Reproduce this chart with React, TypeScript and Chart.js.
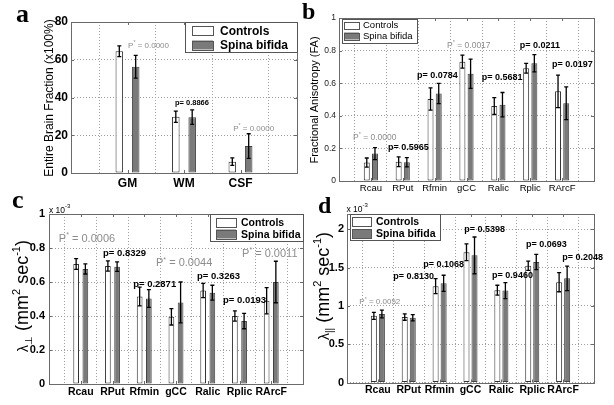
import React, { useEffect, useRef } from 'react';
import { Chart, registerables } from 'chart.js';

Chart.register(...registerables);

const SANS = '"Liberation Sans", Arial, Helvetica, sans-serif';
const SERIF = '"Liberation Serif", "Times New Roman", serif';
Chart.defaults.font.family = SANS;

const seriesNames = ['Controls', 'Spina bifida'];
const seriesFill = ['#ffffff', '#7a7a7a'];

// ---------- panel a ----------
const catsA = ['GM', 'WM', 'CSF'];
const ctrlA = [64.5, 29.8, 6.0];
const ctrlSdA = [2.8, 3.0, 2.0];
const sbA = [56.3, 29.6, 14.3];
const sbSdA = [6.0, 3.8, 6.5];
const pTextA = ['P* = 0.0000', 'p= 0.8866', 'P* = 0.0000'];
const pCatA = [1.01, 1.84, 2.87];
const pValA = [67.7, 37.6, 24];
const yTicksA = [0, 20, 40, 60, 80];

// ---------- regions (b, c, d) ----------
const regions = ['Rcau', 'RPut', 'Rfmin', 'gCC', 'Ralic', 'Rplic', 'RArcF'];

// ---------- panel b : FA ----------
const ctrlB = [0.113, 0.118, 0.503, 0.732, 0.46, 0.692, 0.55];
const ctrlSdB = [0.028, 0.03, 0.068, 0.04, 0.052, 0.03, 0.1];
const sbB = [0.168, 0.115, 0.537, 0.658, 0.468, 0.722, 0.477];
const sbSdB = [0.037, 0.028, 0.062, 0.09, 0.075, 0.053, 0.1];
const pTextB = ['P* = 0.0000', 'p= 0.5965', 'p= 0.0784', 'P* = 0.0017', 'p= 0.5681', 'p= 0.0211', 'p= 0.0197'];
const pCatB = [0.44, 1.54, 2.45, 3.39, 4.48, 5.67, 6.68];
const pValB = [0.268, 0.21, 0.65, 0.834, 0.64, 0.834, 0.718];
const yTicksB = [0, 0.2, 0.4, 0.6, 0.8, 1];

// ---------- panel c : lambda perpendicular (x 10^-3) ----------
const ctrlC = [0.706, 0.694, 0.515, 0.395, 0.55, 0.4, 0.49];
const ctrlSdC = [0.032, 0.03, 0.055, 0.048, 0.042, 0.03, 0.077];
const sbC = [0.677, 0.69, 0.503, 0.48, 0.537, 0.37, 0.6];
const sbSdC = [0.03, 0.028, 0.052, 0.12, 0.044, 0.045, 0.122];
const pTextC = ['P* = 0.0006', 'p= 0.8329', 'p= 0.2871', 'P* = 0.0044', 'p= 0.3263', 'p= 0.0193', 'P* = 0.0011'];
const pCatC = [0.31, 1.7, 2.65, 3.37, 4.66, 5.48, 6.08];
const pValC = [0.857, 0.775, 0.592, 0.714, 0.635, 0.494, 0.769];
const yTicksC = [0, 0.2, 0.4, 0.6, 0.8, 1];

// ---------- panel d : lambda parallel (x 10^-3) ----------
const ctrlD = [0.87, 0.855, 1.258, 1.7, 1.205, 1.525, 1.31];
const ctrlSdD = [0.045, 0.042, 0.098, 0.11, 0.065, 0.06, 0.125];
const sbD = [0.895, 0.845, 1.295, 1.66, 1.2, 1.573, 1.36];
const sbSdD = [0.05, 0.04, 0.105, 0.24, 0.105, 0.1, 0.16];
const pTextD = ['P* = 0.0052', 'p= 0.8130', 'p= 0.1068', 'p= 0.5398', 'p= 0.9460', 'p= 0.0693', 'p= 0.2048'];
const pCatD = [0.4, 1.5, 2.47, 3.8, 4.7, 5.8, 6.97];
const pValD = [1.06, 1.387, 1.55, 2.0, 1.4, 1.81, 1.647];
const yTicksD = [0, 0.5, 1, 1.5, 2];
const yMaxD = 2.2;

type Seg = { t: string; size: number; dy?: number; bold?: boolean; family?: string };

function fontOf(s: Seg) {
  return `${s.bold ? 'bold ' : ''}${s.size}px ${s.family || SANS}`;
}

function drawSegs(ctx: CanvasRenderingContext2D, segs: Seg[], x: number, y: number, rotate: boolean, align: 'left' | 'center', color: string) {
  ctx.save();
  ctx.translate(x, y);
  if (rotate) ctx.rotate(-Math.PI / 2);
  ctx.textBaseline = 'alphabetic';
  ctx.textAlign = 'left';
  let total = 0;
  const widths = segs.map((s) => {
    ctx.font = fontOf(s);
    const w = ctx.measureText(s.t).width;
    total += w;
    return w;
  });
  let cx = align === 'center' ? -total / 2 : 0;
  ctx.fillStyle = color;
  segs.forEach((s, i) => {
    ctx.font = fontOf(s);
    ctx.fillText(s.t, cx, s.dy || 0);
    cx += widths[i];
  });
  ctx.restore();
}

interface Spec {
  key: string;
  cats: string[];
  ctrl: number[]; ctrlSd: number[]; sb: number[]; sbSd: number[];
  pText: string[]; pCat: number[]; pVal: number[];
  yTicks: number[]; yMax: number;
  area: { l: number; r: number; t: number; b: number };
  tickFont: { size: number; weight: string }; tickColor: string; tickPad: number;
  xFont: { size: number; weight: string }; xPad: number;
  cp: number; bp: number;
  sigSize: number; nsSize: number;
  legend: { x: number; y: number; w: number; h: number; swX: number; swW: number; swH: number; rows: number[]; tx: number; size: number; bold: boolean };
  title: { segs: Seg[]; x: number; y: number };
  letter: { t: string; x: number; y: number; size: number };
  mult?: { x: number; y: number };
}

const panels: Spec[] = [
  {
    key: 'a', cats: catsA, ctrl: ctrlA, ctrlSd: ctrlSdA, sb: sbA, sbSd: sbSdA,
    pText: pTextA, pCat: pCatA, pVal: pValA, yTicks: yTicksA, yMax: 80,
    area: { l: 71, r: 297, t: 22, b: 173 },
    tickFont: { size: 12, weight: 'bold' }, tickColor: '#000', tickPad: 3,
    xFont: { size: 12, weight: 'bold' }, xPad: 3,
    cp: 0.58, bp: 0.46, sigSize: 8, nsSize: 7.5,
    legend: { x: 185, y: 22, w: 112, h: 30, swX: 192, swW: 21, swH: 9, rows: [30.5, 45], tx: 220, size: 12, bold: true },
    title: { segs: [{ t: 'Entire Brain Fraction (x100%)', size: 12 }], x: 52.5, y: 98 },
    letter: { t: 'a', x: 16, y: 22, size: 26 },
  },
  {
    key: 'b', cats: regions, ctrl: ctrlB, ctrlSd: ctrlSdB, sb: sbB, sbSd: sbSdB,
    pText: pTextB, pCat: pCatB, pVal: pValB, yTicks: yTicksB, yMax: 1,
    area: { l: 339, r: 594, t: 18, b: 181 },
    tickFont: { size: 8.5, weight: 'normal' }, tickColor: '#222', tickPad: 3,
    xFont: { size: 9.5, weight: 'normal' }, xPad: 2,
    cp: 0.514, bp: 0.73, sigSize: 8.5, nsSize: 9,
    legend: { x: 342, y: 19, w: 75, h: 24, swX: 344, swW: 15, swH: 7, rows: [25, 36], tx: 363, size: 9.5, bold: false },
    title: { segs: [{ t: 'Fractional Anisotropy (FA)', size: 11 }], x: 318, y: 100 },
    letter: { t: 'b', x: 302, y: 19, size: 24 },
  },
  {
    key: 'c', cats: regions, ctrl: ctrlC, ctrlSd: ctrlSdC, sb: sbC, sbSd: sbSdC,
    pText: pTextC, pCat: pCatC, pVal: pValC, yTicks: yTicksC, yMax: 1,
    area: { l: 49, r: 303, t: 214, b: 384 },
    tickFont: { size: 11, weight: 'bold' }, tickColor: '#000', tickPad: 4,
    xFont: { size: 10.5, weight: 'bold' }, xPad: 2,
    cp: 0.58, bp: 0.62, sigSize: 11, nsSize: 9.5,
    legend: { x: 210, y: 214, w: 93, h: 27, swX: 216, swW: 20, swH: 9, rows: [222, 234], tx: 241, size: 10.5, bold: true },
    title: {
      segs: [
        { t: 'λ', size: 14 }, { t: '⊥', size: 10, dy: 4 }, { t: ' (mm', size: 18 }, { t: '2', size: 11, dy: -8 },
        { t: ' sec', size: 18 }, { t: '-1', size: 11, dy: -8 }, { t: ')', size: 18 },
      ], x: 28, y: 296,
    },
    letter: { t: 'c', x: 12, y: 208, size: 26 },
    mult: { x: 49, y: 212.5 },
  },
  {
    key: 'd', cats: regions, ctrl: ctrlD, ctrlSd: ctrlSdD, sb: sbD, sbSd: sbSdD,
    pText: pTextD, pCat: pCatD, pVal: pValD, yTicks: yTicksD, yMax: yMaxD,
    area: { l: 347, r: 594, t: 214, b: 382.5 },
    tickFont: { size: 11, weight: 'bold' }, tickColor: '#000', tickPad: 3,
    xFont: { size: 10.5, weight: 'bold' }, xPad: 1,
    cp: 0.52, bp: 0.75, sigSize: 8, nsSize: 9,
    legend: { x: 350, y: 214, w: 90, h: 26, swX: 352, swW: 19, swH: 9, rows: [221.5, 233.5], tx: 376, size: 10.5, bold: true },
    title: {
      segs: [
        { t: 'λ', size: 14 }, { t: '||', size: 10, dy: 4 }, { t: ' (mm', size: 18 }, { t: '2', size: 11, dy: -8 },
        { t: ' sec', size: 18 }, { t: '-1', size: 11, dy: -8 }, { t: ')', size: 18 },
      ], x: 329, y: 286,
    },
    letter: { t: 'd', x: 318, y: 213, size: 24 },
    mult: { x: 346.5, y: 211.5 },
  },
];

function makeDecor(spec: Spec) {
  return {
    id: 'decor' + spec.key,
    afterDatasetsDraw(chart: any) {
      const ctx: CanvasRenderingContext2D = chart.ctx;
      const xs = chart.scales.x;
      const ys = chart.scales.y;
      const { left, right, top, bottom } = chart.chartArea;

      // error bars
      const sets = [[spec.ctrl, spec.ctrlSd], [spec.sb, spec.sbSd]];
      ctx.save();
      ctx.strokeStyle = '#000';
      ctx.lineWidth = 1.3;
      sets.forEach(([vals, sds], di) => {
        const meta = chart.getDatasetMeta(di);
        vals.forEach((v: number, j: number) => {
          const el = meta.data[j + 1];
          if (!el) return;
          const x = el.x;
          const y1 = ys.getPixelForValue(v + sds[j]);
          const y2 = ys.getPixelForValue(v - sds[j]);
          ctx.beginPath();
          ctx.moveTo(x, y1); ctx.lineTo(x, y2);
          ctx.moveTo(x - 2, y1); ctx.lineTo(x + 2, y1);
          ctx.moveTo(x - 2, y2); ctx.lineTo(x + 2, y2);
          ctx.stroke();
        });
      });
      ctx.restore();

      // axes box with inward ticks
      ctx.save();
      ctx.strokeStyle = '#6a6a6a';
      ctx.lineWidth = 1;
      ctx.strokeRect(Math.round(left) + 0.5, Math.round(top) + 0.5, Math.round(right - left), Math.round(bottom - top));
      ctx.beginPath();
      spec.yTicks.forEach((v) => {
        const y = Math.round(ys.getPixelForValue(v)) + 0.5;
        ctx.moveTo(left, y); ctx.lineTo(left + 3, y);
        ctx.moveTo(right, y); ctx.lineTo(right - 3, y);
      });
      spec.cats.forEach((_c, i) => {
        const x = Math.round(xs.getPixelForValue(i + 1)) + 0.5;
        ctx.moveTo(x, bottom); ctx.lineTo(x, bottom - 3);
        ctx.moveTo(x, top); ctx.lineTo(x, top + 3);
      });
      ctx.stroke();
      ctx.restore();

      // p-value annotations
      spec.pText.forEach((txt, i) => {
        const x = xs.getPixelForValue(spec.pCat[i]);
        const y = ys.getPixelForValue(spec.pVal[i]);
        const sig = txt.startsWith('P*');
        const s = sig ? spec.sigSize : spec.nsSize;
        const segs: Seg[] = sig
          ? [{ t: 'P', size: s }, { t: '*', size: s * 0.65, dy: -s * 0.45 }, { t: txt.slice(2), size: s }]
          : [{ t: txt, size: s, bold: true }];
        drawSegs(ctx, segs, x, y + s * 0.35, false, 'left', sig ? '#8c8c8c' : '#000');
      });

      // legend
      const L = spec.legend;
      ctx.save();
      ctx.fillStyle = '#fff';
      ctx.fillRect(L.x, L.y, L.w, L.h);
      ctx.strokeStyle = '#555';
      ctx.lineWidth = 1;
      ctx.strokeRect(L.x + 0.5, L.y + 0.5, L.w, L.h);
      chart.data.datasets.forEach((ds: any, i: number) => {
        const cy = L.rows[i];
        ctx.fillStyle = ds.backgroundColor;
        ctx.fillRect(L.swX, cy - L.swH / 2, L.swW, L.swH);
        ctx.strokeStyle = '#555';
        ctx.strokeRect(L.swX + 0.5, Math.round(cy - L.swH / 2) + 0.5, L.swW, L.swH);
        drawSegs(ctx, [{ t: ds.label, size: L.size, bold: L.bold }], L.tx, cy + L.size * 0.36, false, 'left', '#000');
      });
      ctx.restore();

      // axis title, panel letter, multiplier
      drawSegs(ctx, spec.title.segs, spec.title.x, spec.title.y, true, 'center', '#000');
      drawSegs(ctx, [{ t: spec.letter.t, size: spec.letter.size, bold: true, family: SERIF }], spec.letter.x, spec.letter.y, false, 'left', '#000');
      if (spec.mult) {
        drawSegs(ctx, [{ t: 'x 10', size: 8.5 }, { t: '-3', size: 6, dy: -4.5 }], spec.mult.x, spec.mult.y, false, 'left', '#000');
      }
    },
  };
}

function buildConfig(spec: Spec): any {
  const labels = ['', ...spec.cats, ''];
  const A = spec.area;
  const xH = 20;
  return {
    type: 'bar',
    data: {
      labels,
      datasets: [
        { label: seriesNames[0], data: [null, ...spec.ctrl, null], backgroundColor: seriesFill[0], borderColor: '#333', borderWidth: 1, borderSkipped: false },
        { label: seriesNames[1], data: [null, ...spec.sb, null], backgroundColor: seriesFill[1], borderColor: '#444', borderWidth: 1, borderSkipped: false },
      ],
    },
    options: {
      responsive: false,
      maintainAspectRatio: false,
      animation: false,
      devicePixelRatio: 1,
      categoryPercentage: spec.cp,
      barPercentage: spec.bp,
      layout: { padding: { left: 0, top: A.t, right: 614 - A.r, bottom: 405 - A.b - xH } },
      plugins: { legend: { display: false }, tooltip: { enabled: false }, title: { display: false } },
      scales: {
        x: {
          type: 'category',
          offset: false,
          grid: { color: '#a0a0a0', drawTicks: false, lineWidth: 1 },
          border: { display: false, dash: [1, 2] },
          ticks: { autoSkip: false, maxRotation: 0, minRotation: 0, padding: spec.xPad, color: '#000', font: { size: spec.xFont.size, weight: spec.xFont.weight, family: SANS } },
          afterFit: (s: any) => { s.height = xH; },
        },
        y: {
          min: 0,
          max: spec.yMax,
          grid: { color: '#a0a0a0', drawTicks: false, lineWidth: 1 },
          border: { display: false, dash: [1, 2] },
          ticks: {
            padding: spec.tickPad, color: spec.tickColor,
            font: { size: spec.tickFont.size, weight: spec.tickFont.weight, family: SANS },
            callback: (v: any) => String(v),
          },
          afterBuildTicks: (s: any) => { s.ticks = spec.yTicks.map((v) => ({ value: v })); },
          afterFit: (s: any) => { s.width = A.l; },
        },
      },
    },
    plugins: [makeDecor(spec)],
  };
}

function Panel({ spec }: { spec: Spec }) {
  const ref = useRef<HTMLCanvasElement | null>(null);
  useEffect(() => {
    if (!ref.current) return;
    const chart = new Chart(ref.current, buildConfig(spec));
    return () => chart.destroy();
  }, [spec]);
  return (
    <canvas
      ref={ref}
      width={614}
      height={405}
      style={{ position: 'absolute', left: 0, top: 0, width: 614, height: 405 }}
    />
  );
}

export default function App() {
  return (
    <div style={{ position: 'fixed', left: 0, top: 0, width: 614, height: 405, background: '#fff', overflow: 'hidden' }}>
      {panels.map((p) => (
        <Panel key={p.key} spec={p} />
      ))}
    </div>
  );
}
